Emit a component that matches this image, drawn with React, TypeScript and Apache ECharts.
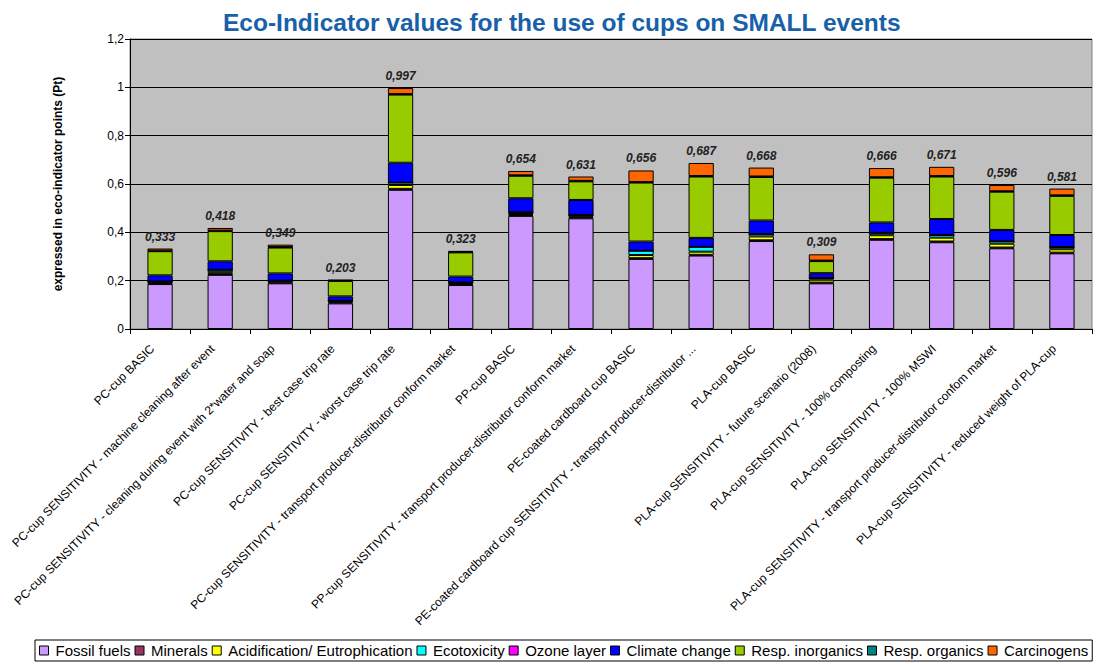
import React, { useEffect, useRef } from "react";
import * as echarts from "echarts";

const categories = [
  "PC-cup BASIC",
  "PC-cup SENSITIVITY - machine cleaning after event",
  "PC-cup SENSITIVITY - cleaning during event with 2*water and soap",
  "PC-cup SENSITIVITY - best case trip rate",
  "PC-cup SENSITIVITY - worst case trip rate",
  "PC-cup SENSITIVITY - transport producer-distributor conform market",
  "PP-cup BASIC",
  "PP-cup SENSITIVITY - transport producer-distributor conform market",
  "PE-coated cardboard cup BASIC",
  "PE-coated cardboard cup SENSITIVITY - transport producer-distributor ...",
  "PLA-cup BASIC",
  "PLA-cup SENSITIVITY - future scenario (2008)",
  "PLA-cup SENSITIVITY - 100% composting",
  "PLA-cup SENSITIVITY - 100% MSWI",
  "PLA-cup SENSITIVITY - transport producer-distributor confom market",
  "PLA-cup SENSITIVITY - reduced weight of PLA-cup",
];

const fossilFuels = [0.186, 0.224, 0.189, 0.106, 0.576, 0.182, 0.468, 0.458, 0.29, 0.304, 0.364, 0.189, 0.369, 0.359, 0.334, 0.313];
const minerals = [0.003, 0.003, 0.003, 0.004, 0.004, 0.004, 0.004, 0.004, 0.003, 0.003, 0.003, 0.003, 0.003, 0.003, 0.003, 0.003];
const acidification = [0.006, 0.008, 0.006, 0.004, 0.016, 0.005, 0.004, 0.004, 0.013, 0.013, 0.016, 0.012, 0.016, 0.016, 0.016, 0.014];
const ecotoxicity = [0.002, 0.010, 0.002, 0.003, 0.010, 0.002, 0.007, 0.006, 0.018, 0.020, 0.010, 0.007, 0.010, 0.011, 0.010, 0.009];
const ozoneLayer = [0, 0, 0, 0, 0, 0, 0, 0, 0, 0, 0, 0, 0, 0, 0, 0];
const climateChange = [0.025, 0.035, 0.030, 0.018, 0.082, 0.024, 0.058, 0.062, 0.038, 0.037, 0.056, 0.020, 0.043, 0.066, 0.047, 0.050];
const respInorganics = [0.100, 0.125, 0.107, 0.064, 0.282, 0.100, 0.093, 0.077, 0.244, 0.254, 0.180, 0.050, 0.185, 0.176, 0.158, 0.162];
const respOrganics = [0.002, 0.002, 0.002, 0.002, 0.002, 0.002, 0.002, 0.002, 0.002, 0.002, 0.002, 0.002, 0.002, 0.002, 0.002, 0.002];
const carcinogens = [0.009, 0.011, 0.010, 0.002, 0.025, 0.004, 0.018, 0.018, 0.048, 0.054, 0.037, 0.026, 0.038, 0.038, 0.026, 0.028];

const totalLabels = ["0,333", "0,418", "0,349", "0,203", "0,997", "0,323", "0,654", "0,631", "0,656", "0,687", "0,668", "0,309", "0,666", "0,671", "0,596", "0,581"];

const yTicks = [0, 0.2, 0.4, 0.6, 0.8, 1, 1.2];

const seriesDefs = [
  { name: "Fossil fuels", data: fossilFuels, color: "#CC99FF" },
  { name: "Minerals", data: minerals, color: "#993366" },
  { name: "Acidification/ Eutrophication", data: acidification, color: "#FFFF00" },
  { name: "Ecotoxicity", data: ecotoxicity, color: "#00FFFF" },
  { name: "Ozone layer", data: ozoneLayer, color: "#FF00FF" },
  { name: "Climate change", data: climateChange, color: "#0000FF" },
  { name: "Resp. inorganics", data: respInorganics, color: "#99CC00" },
  { name: "Resp. organics", data: respOrganics, color: "#008080" },
  { name: "Carcinogens", data: carcinogens, color: "#FF6600" },
];

const FONT = "'Liberation Sans', Arial, sans-serif";

export default function App() {
  const ref = useRef<HTMLDivElement>(null);
  useEffect(() => {
    if (!ref.current) return;
    const chart = echarts.init(ref.current, null, { renderer: "svg" });
    const last = seriesDefs.length - 1;
    chart.setOption({
      animation: false,
      backgroundColor: "#ffffff",
      textStyle: { fontFamily: FONT },
      title: {
        text: "Eco-Indicator values for the use of cups on SMALL events",
        left: 218,
        top: 5,
        textStyle: { fontFamily: FONT, fontSize: 24.5, fontWeight: "bold", color: "#1761A8" },
      },
      legend: {
        left: 35,
        top: 640,
        itemWidth: 9,
        itemHeight: 9,
        itemGap: 4,
        padding: [3, 4, 3, 4],
        borderColor: "#000",
        borderWidth: 1,
        icon: "rect",
        itemStyle: { borderColor: "#000", borderWidth: 1 },
        textStyle: { fontFamily: FONT, fontSize: 15, color: "#000", padding: [0, 0, 0, 2] },
        data: seriesDefs.map((s) => s.name),
      },
      grid: {
        left: 130,
        right: 7,
        top: 39,
        bottom: 335,
        show: true,
        backgroundColor: "#C0C0C0",
        borderColor: "#808080",
        borderWidth: 1,
      },
      xAxis: {
        type: "category",
        data: categories,
        axisLine: { show: true, lineStyle: { color: "#000", width: 1 } },
        axisTick: { show: true, alignWithLabel: false, length: 5, lineStyle: { color: "#000" } },
        axisLabel: {
          rotate: 45,
          interval: 0,
          margin: 10,
          padding: [0, 11, 0, 0],
          fontFamily: FONT,
          fontSize: 12,
          color: "#000",
        },
      },
      yAxis: {
        type: "value",
        min: yTicks[0],
        max: yTicks[yTicks.length - 1],
        interval: 0.2,
        name: "expressed in eco-indicator points (Pt)",
        nameLocation: "middle",
        nameGap: 66,
        nameRotate: 90,
        nameTextStyle: { fontFamily: FONT, fontSize: 12, fontWeight: "bold", color: "#000" },
        axisLine: { show: true, lineStyle: { color: "#000", width: 1 } },
        axisTick: { show: true, length: 5, lineStyle: { color: "#000" } },
        axisLabel: {
          fontFamily: FONT,
          fontSize: 12,
          color: "#000",
          margin: 6,
          formatter: (v: number) => (v === 0 ? "0" : String(+v.toFixed(1)).replace(".", ",")),
        },
        splitLine: { show: true, lineStyle: { color: "#000", width: 1 } },
      },
      series: seriesDefs.map((s, idx) => ({
        name: s.name,
        type: "bar",
        stack: "total",
        data: s.data,
        barWidth: "42%",
        itemStyle: { color: s.color, borderColor: "#000", borderWidth: 1 },
        label:
          idx === last
            ? {
                show: true,
                position: "top",
                distance: 6,
                fontFamily: FONT,
                fontSize: 12,
                fontWeight: "bold",
                fontStyle: "italic",
                color: "#222",
                formatter: (p: any) => totalLabels[p.dataIndex],
              }
            : { show: false },
      })),
    });
    return () => chart.dispose();
  }, []);
  return (
    <div
      ref={ref}
      style={{ position: "fixed", left: 0, top: 0, width: 1099, height: 664 }}
    />
  );
}
